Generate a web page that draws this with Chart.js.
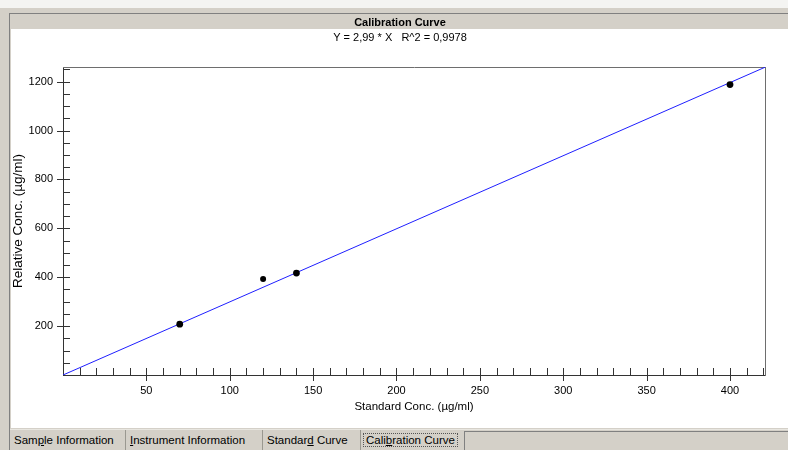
<!DOCTYPE html>
<html><head><meta charset="utf-8">
<script src="https://cdn.jsdelivr.net/npm/chart.js@4/dist/chart.umd.min.js"></script>
<style>
html,body{margin:0;padding:0;width:788px;height:450px;overflow:hidden;background:#f4f4f2;font-family:"Liberation Sans",Arial,sans-serif;}
#outer{position:absolute;left:0;top:8px;width:788px;height:442px;background:#d4d0c8;}
#inner{position:absolute;left:9px;top:13px;width:779px;height:437px;border-left:1px solid #808080;border-top:1px solid #808080;background:#d4d0c8;}
#panel{position:absolute;left:11px;top:29px;width:777px;height:399px;background:#fff;}
#chartbox{position:absolute;left:12px;top:14px;width:776px;height:414px;}
#tabs{position:absolute;left:10px;top:429px;width:778px;height:21px;background:#d4d0c8;border-top:1px solid #e8e6e0;}
.tab{position:absolute;top:0;height:20px;line-height:20px;font-size:11.5px;color:#000;box-sizing:border-box;border-right:1px solid #9a9890;padding-left:4px;white-space:nowrap;}
.sel span{border:1px dotted #555;padding:0 2px;}
#rest{position:absolute;left:454px;top:1px;width:324px;height:20px;border-left:1px solid #808080;border-top:1px solid #808080;background:#d4d0c8;}
</style></head>
<body>
<div id="outer"></div>
<div id="inner"></div>
<div id="panel"></div>
<div id="chartbox"><canvas id="c" width="776" height="414"></canvas></div>
<div id="tabs">
  <div class="tab" style="left:0;width:116px;">Sam<u>p</u>le Information</div>
  <div class="tab" style="left:116px;width:137px;"><u>I</u>nstrument Information</div>
  <div class="tab" style="left:253px;width:98px;">Standar<u>d</u> Curve</div>
  <div class="tab sel" style="left:351px;width:103px;padding-left:2px;border-right:none;"><span>Cali<u>b</u>ration Curve</span></div>
  <div id="rest"></div>
</div>
<script>
// ---- data ----
const stdConc = [70, 120, 140, 400];          // Standard Conc. (µg/ml)
const relConc = [208, 393, 417, 1188];        // Relative Conc. (µg/ml)
const fitX = [0, 421];                        // regression line Y = 2,99 * X
const fitY = [0, 1259];
const xTickLabels = [50, 100, 150, 200, 250, 300, 350, 400];
const yTickLabels = [200, 400, 600, 800, 1000, 1200];
const xMin = 0, xMax = 421, yMin = 0, yMax = 1260;
const xMinorStep = 10, yMinorStep = 50;

const FONT = '"Liberation Sans", Arial, sans-serif';

const innerTicks = {
  id: 'innerTicks',
  afterDraw(chart) {
    const {ctx, chartArea: {left, top, bottom}, scales: {x, y}} = chart;
    ctx.save();
    ctx.strokeStyle = '#333';
    ctx.lineWidth = 1;
    ctx.beginPath();
    for (let i = 1; i * xMinorStep < xMax; i++) {
      const v = i * xMinorStep;
      const px = Math.round(x.getPixelForValue(v)) + 0.5;
      const major = xTickLabels.includes(v);
      ctx.moveTo(px, bottom + (major ? 6 : 0));
      ctx.lineTo(px, bottom - 7);
    }
    for (let i = 1; i * yMinorStep < yMax; i++) {
      const v = i * yMinorStep;
      const py = Math.round(y.getPixelForValue(v)) + 0.5;
      const major = yTickLabels.includes(v);
      ctx.moveTo(left - (major ? 6 : 0), py);
      ctx.lineTo(left + 7, py);
    }
    ctx.stroke();
    ctx.restore();
  }
};

new Chart(document.getElementById('c'), {
  type: 'scatter',
  data: {
    datasets: [
      {
        type: 'scatter',
        data: stdConc.map((v, i) => ({x: v, y: relConc[i]})),
        backgroundColor: '#000',
        borderColor: '#000',
        pointRadius: [3.4, 3, 3.4, 3.4],
        borderWidth: 0,
        order: 0
      },
      {
        type: 'line',
        data: fitX.map((v, i) => ({x: v, y: fitY[i]})),
        borderColor: '#1f1fff',
        borderWidth: 1,
        pointRadius: 0,
        fill: false,
        order: 1
      }
    ]
  },
  options: {
    responsive: false,
    animation: false,
    devicePixelRatio: 1,
    layout: {padding: 0, autoPadding: false},
    plugins: {
      legend: {display: false},
      tooltip: {enabled: false},
      title: {
        display: true, text: 'Calibration Curve', color: '#000',
        font: {family: FONT, size: 11, weight: 'bold'},
        padding: {top: 2, bottom: 2}
      },
      subtitle: {
        display: true, text: 'Y = 2,99 * X   R^2 = 0,9978', color: '#000',
        font: {family: FONT, size: 11},
        padding: {top: 0, bottom: 22.6}
      }
    },
    scales: {
      x: {
        type: 'linear', position: 'bottom', min: xMin, max: xMax,
        afterBuildTicks: s => { s.ticks = xTickLabels.map(v => ({value: v})); },
        afterFit: s => { s.height = 53; },
        grid: {display: false, drawTicks: false},
        border: {display: true, color: '#333', width: 1},
        ticks: {color: '#000', font: {family: FONT, size: 11}, padding: 9, maxRotation: 0, autoSkip: false,
                callback: v => String(v)},
        title: {display: true, text: 'Standard Conc. (µg/ml)', color: '#000',
                font: {family: FONT, size: 11.5}, padding: {top: 0, bottom: 14}}
      },
      y: {
        type: 'linear', position: 'left', min: yMin, max: yMax,
        afterBuildTicks: s => { s.ticks = yTickLabels.map(v => ({value: v})); },
        afterFit: s => { s.width = 51; },
        grid: {display: false, drawTicks: false},
        border: {display: true, color: '#333', width: 1},
        ticks: {color: '#000', font: {family: FONT, size: 11}, padding: 10, autoSkip: false,
                callback: v => String(v)},
        title: {display: true, text: 'Relative Conc. (µg/ml)', color: '#000',
                font: {family: FONT, size: 13.5}, padding: {top: -1.5, bottom: 0}}
      },
      x2: {
        type: 'linear', position: 'top', min: xMin, max: xMax,
        afterFit: s => { s.height = 0; },
        grid: {display: false, drawTicks: false},
        border: {display: true, color: '#6e6e6e', width: 1},
        ticks: {display: false}
      },
      y2: {
        type: 'linear', position: 'right', min: yMin, max: yMax,
        afterFit: s => { s.width = 23; },
        grid: {display: false, drawTicks: false},
        border: {display: true, color: '#6e6e6e', width: 1},
        ticks: {display: false}
      }
    }
  },
  plugins: [innerTicks]
});
</script>
</body></html>
